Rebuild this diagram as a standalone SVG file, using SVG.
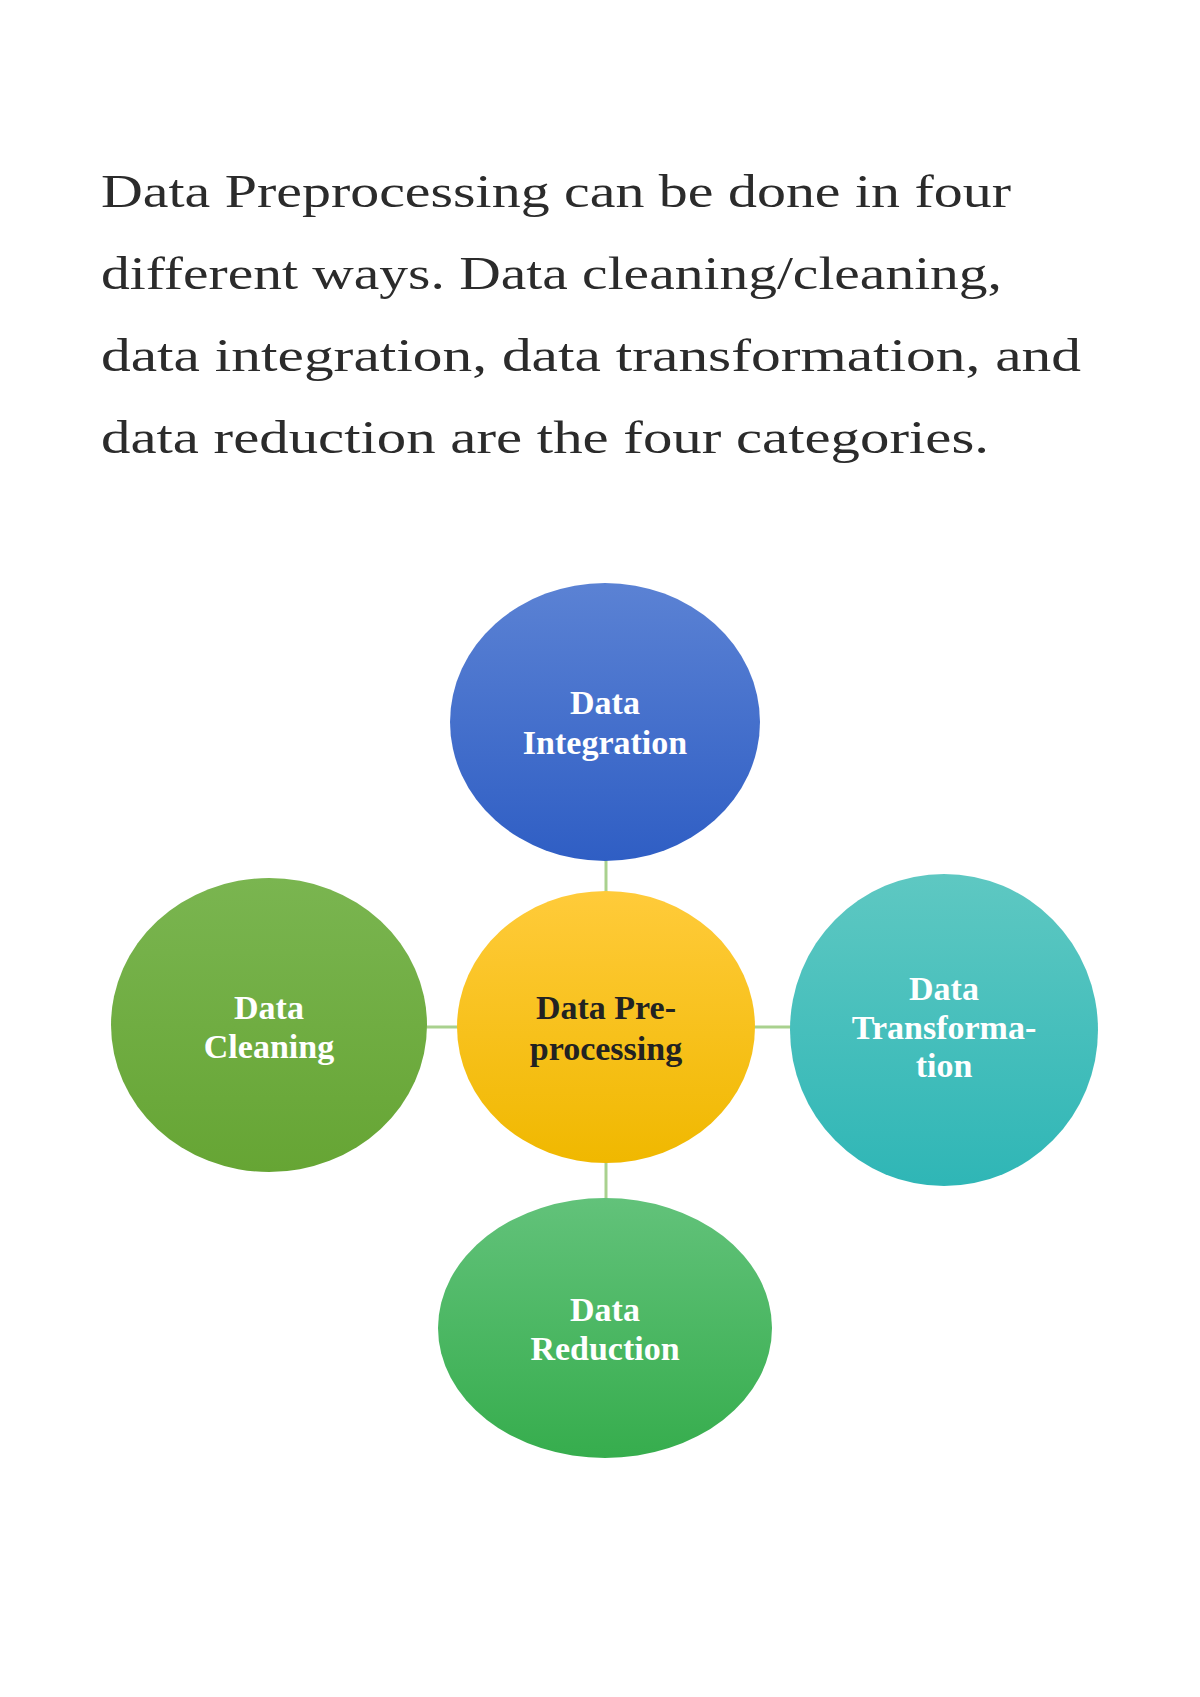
<svg xmlns="http://www.w3.org/2000/svg" width="1200" height="1697" viewBox="0 0 1200 1697">
<style>
.p{font-family:"Liberation Serif",serif;font-size:46px;fill:#2b2b2b}
.n{font-family:"Liberation Serif",serif;font-weight:bold;font-size:34px;fill:#fff;text-anchor:middle}
.c{fill:#222}
.ln{stroke:#a9d18e;stroke-width:3}
</style>
<defs>
<linearGradient id="gb" x1="0" y1="0" x2="0" y2="1"><stop offset="0" stop-color="#5b82d4"/><stop offset="1" stop-color="#2f5ec4"/></linearGradient>
<linearGradient id="gy" x1="0" y1="0" x2="0" y2="1"><stop offset="0" stop-color="#ffcb3a"/><stop offset="1" stop-color="#f0b800"/></linearGradient>
<linearGradient id="gg" x1="0" y1="0" x2="0" y2="1"><stop offset="0" stop-color="#7ab550"/><stop offset="1" stop-color="#66a534"/></linearGradient>
<linearGradient id="gt" x1="0" y1="0" x2="0" y2="1"><stop offset="0" stop-color="#5ec8c2"/><stop offset="1" stop-color="#2fb6b6"/></linearGradient>
<linearGradient id="gr" x1="0" y1="0" x2="0" y2="1"><stop offset="0" stop-color="#62c27a"/><stop offset="1" stop-color="#36ad4d"/></linearGradient>
</defs>
<rect width="1200" height="1697" fill="#fff"/>
<text class="p" x="101" y="207" textLength="910" lengthAdjust="spacingAndGlyphs">Data Preprocessing can be done in four</text>
<text class="p" x="101" y="289" textLength="901" lengthAdjust="spacingAndGlyphs">different ways. Data cleaning/cleaning,</text>
<text class="p" x="101" y="371" textLength="980" lengthAdjust="spacingAndGlyphs">data integration, data transformation, and</text>
<text class="p" x="101" y="453" textLength="888" lengthAdjust="spacingAndGlyphs">data reduction are the four categories.</text>
<g id="connectors">
<line class="ln" x1="606" y1="855" x2="606" y2="895"/>
<line class="ln" x1="606" y1="1160" x2="606" y2="1202"/>
<line class="ln" x1="425" y1="1027" x2="460" y2="1027"/>
<line class="ln" x1="752" y1="1027" x2="792" y2="1027"/>
</g>
<g id="integration"><ellipse cx="605" cy="722" rx="155" ry="139" fill="url(#gb)"/>
<text class="n" x="605" y="714">Data</text><text class="n" x="605" y="754">Integration</text></g>
<g id="preprocessing"><ellipse cx="606" cy="1027" rx="149" ry="136" fill="url(#gy)"/>
<text class="n c" x="606" y="1019">Data Pre-</text><text class="n c" x="606" y="1060">processing</text></g>
<g id="cleaning"><ellipse cx="269" cy="1025" rx="158" ry="147" fill="url(#gg)"/>
<text class="n" x="269" y="1019">Data</text><text class="n" x="269" y="1058">Cleaning</text></g>
<g id="transformation"><ellipse cx="944" cy="1030" rx="154" ry="156" fill="url(#gt)"/>
<text class="n" x="944" y="1000">Data</text><text class="n" x="944" y="1039">Transforma-</text><text class="n" x="944" y="1077">tion</text></g>
<g id="reduction"><ellipse cx="605" cy="1328" rx="167" ry="130" fill="url(#gr)"/>
<text class="n" x="605" y="1321">Data</text><text class="n" x="605" y="1360">Reduction</text></g>
</svg>
